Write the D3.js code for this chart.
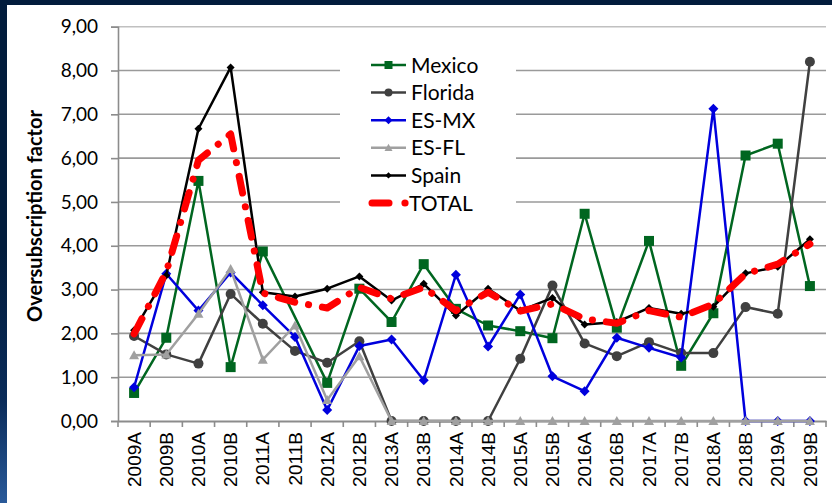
<!DOCTYPE html>
<html><head><meta charset="utf-8">
<script src="https://cdn.jsdelivr.net/npm/d3@7"></script>
<style>body{margin:0;background:#021c3c;}svg{display:block;}</style>
</head><body><svg id="c" width="832" height="503"></svg>
<script>
const categories = ["2009A","2009B","2010A","2010B","2011A","2011B","2012A","2012B","2013A","2013B","2014A","2014B","2015A","2015B","2016A","2016B","2017A","2017B","2018A","2018B","2019A","2019B"];
const mexico  = [0.64,1.90,5.48,1.23,3.87,null,0.87,3.02,2.26,3.58,2.56,2.18,2.05,1.89,4.73,2.13,4.11,1.26,2.46,6.06,6.33,3.08];
const florida = [1.94,1.52,1.31,2.90,2.22,1.60,1.33,1.82,0,0,0,0,1.42,3.09,1.77,1.48,1.80,1.55,1.55,2.60,2.45,8.20];
const esMx    = [0.77,3.36,2.52,3.39,2.64,1.92,0.25,1.71,1.86,0.93,3.34,1.70,2.89,1.02,0.68,1.90,1.67,1.45,7.13,0,0,0];
const esFl    = [1.50,1.52,2.45,3.47,1.40,2.18,0.48,1.48,0,0,0,0,0,0,0,0,0,0,0,0,0,0];
const spain   = [2.07,3.32,6.67,8.07,2.94,2.84,3.02,3.30,2.75,3.13,2.41,3.02,2.52,2.81,2.20,2.26,2.58,2.45,2.61,3.37,3.52,4.15];
const total   = [1.99,3.40,5.95,6.55,2.92,2.71,2.58,3.05,2.79,3.05,2.52,2.94,2.51,2.67,2.33,2.23,2.52,2.37,2.67,3.36,3.58,4.04];
const yTicks = [0,1,2,3,4,5,6,7,8,9];
const yTitle = "Oversubscription factor";

const series = [
  {name:"Mexico", values:mexico, color:"#006620", marker:"square", size:10},
  {name:"Florida", values:florida, color:"#404040", marker:"circle", size:10},
  {name:"ES-MX", values:esMx, color:"#0000dd", marker:"diamond", size:10},
  {name:"ES-FL", values:esFl, color:"#a0a0a0", marker:"triangle", size:10},
  {name:"Spain", values:spain, color:"#000000", marker:"diamond", size:8},
  {name:"TOTAL", values:total, color:"#ff0000", marker:null, dashed:true}
];

const svg = d3.select("#c");
svg.append("rect").attr("width",832).attr("height",503).attr("fill","#021c3c");
const grad = svg.append("defs").append("linearGradient").attr("id","lg").attr("x1",0).attr("y1",0).attr("x2",0).attr("y2",1);
grad.append("stop").attr("offset","0").attr("stop-color","#021c3c");
grad.append("stop").attr("offset","0.6").attr("stop-color","#0a2c5a");
grad.append("stop").attr("offset","1").attr("stop-color","#2a5a9a");
svg.append("rect").attr("x",0).attr("y",250).attr("width",7).attr("height",253).attr("fill","url(#lg)");
svg.append("rect").attr("x",7).attr("y",5).attr("width",825).attr("height",498).attr("fill","#ffffff");

const x = d3.scaleBand().domain(categories).range([118,826]).padding(0);
const y = d3.scaleLinear().domain([0,9]).range([421,26.7]);
const cx = d => x(d) + x.bandwidth()/2;

// gridlines
svg.append("g").selectAll("line").data(yTicks.filter(v=>v>0)).join("line")
  .attr("x1",118).attr("x2",826).attr("y1",d=>y(d)).attr("y2",d=>y(d))
  .attr("stroke",d=>d===9?"#c0c0c0":"#9a9a9a").attr("stroke-width",1.6);

// y axis
const ya = svg.append("g").attr("transform","translate(118,0)")
  .call(d3.axisLeft(y).tickValues(yTicks).tickSize(7).tickPadding(13)
    .tickFormat(d=>d3.format(".2f")(d).replace(".",",")));
ya.select(".domain").attr("stroke","#8c8c8c").attr("stroke-width",1.6);
ya.selectAll(".tick line").attr("stroke","#8c8c8c").attr("stroke-width",1.6);
ya.selectAll("text").attr("font-family","Lato").attr("font-size",19).attr("fill","#000");

// x axis
const xa = svg.append("g").attr("transform","translate(0,421)")
  .call(d3.axisBottom(x).tickSize(0).tickSizeOuter(0));
xa.select(".domain").attr("stroke","#8c8c8c").attr("stroke-width",1.8);
xa.selectAll(".tick text").attr("font-family","Liberation Sans").attr("font-size",19).attr("fill","#000")
  .attr("transform","rotate(-90)").attr("text-anchor","end").attr("x",-11).attr("y",0).attr("dy","0.35em");
svg.append("g").selectAll("line").data(d3.range(categories.length+1)).join("line")
  .attr("x1",i=>118+i*x.bandwidth()).attr("x2",i=>118+i*x.bandwidth())
  .attr("y1",421).attr("y2",427).attr("stroke","#8c8c8c").attr("stroke-width",1.6);

// y title
svg.append("text").attr("transform","translate(42,216) rotate(-90)").attr("text-anchor","middle")
  .attr("font-family","Lato").attr("font-weight","bold").attr("font-size",20).text(yTitle);

function drawMarker(g, type, size, color){
  const s = size/2;
  if(type==="square") g.append("rect").attr("x",-s).attr("y",-s).attr("width",size).attr("height",size).attr("fill",color);
  else if(type==="circle") g.append("circle").attr("r",s).attr("fill",color);
  else if(type==="diamond") g.append("path").attr("d",`M0,${-s}L${s},0L0,${s}L${-s},0Z`).attr("fill",color);
  else if(type==="triangle") g.append("path").attr("d",`M0,${-s}L${s},${s*0.8}L${-s},${s*0.8}Z`).attr("fill",color);
}

const line = d3.line().x(d=>cx(d.c)).y(d=>y(d.v));
series.forEach(s=>{
  const pts = categories.map((c,i)=>({c, v:s.values[i]})).filter(d=>d.v!==null);
  const p = svg.append("path").datum(pts).attr("d",line).attr("fill","none").attr("stroke",s.color);
  if(s.dashed){
    p.attr("stroke-width",7).attr("stroke-dasharray","17 14 0.1 14").attr("stroke-linecap","round").attr("stroke-linejoin","round");
  } else {
    p.attr("stroke-width",2.5).attr("stroke-linejoin","round");
    pts.forEach(d=>{
      const g = svg.append("g").attr("transform",`translate(${cx(d.c)},${y(d.v)})`);
      drawMarker(g, s.marker, s.size, s.color);
    });
  }
});

// legend
const lg = svg.append("g");
lg.append("rect").attr("x",340).attr("y",48).attr("width",176).attr("height",172).attr("fill","#fff");
series.forEach((s,i)=>{
  const yy = 65 + i*27.6;
  const g = lg.append("g").attr("transform",`translate(0,${yy})`);
  if(s.dashed){
    g.append("line").attr("x1",372).attr("x2",389).attr("y1",0).attr("y2",0).attr("stroke",s.color).attr("stroke-width",7).attr("stroke-linecap","round");
    g.append("circle").attr("cx",405).attr("cy",0).attr("r",3.6).attr("fill",s.color);
  } else {
    g.append("line").attr("x1",371).attr("x2",406).attr("y1",0).attr("y2",0).attr("stroke",s.color).attr("stroke-width",2.5);
    const m = g.append("g").attr("transform","translate(388.5,0)");
    drawMarker(m, s.marker, s.size*0.8, s.color);
  }
  g.append("text").attr("x",s.dashed?409:411).attr("y",0).attr("dy","0.36em").attr("font-family","Lato").attr("font-size",21).text(s.name);
});
</script></body></html>
